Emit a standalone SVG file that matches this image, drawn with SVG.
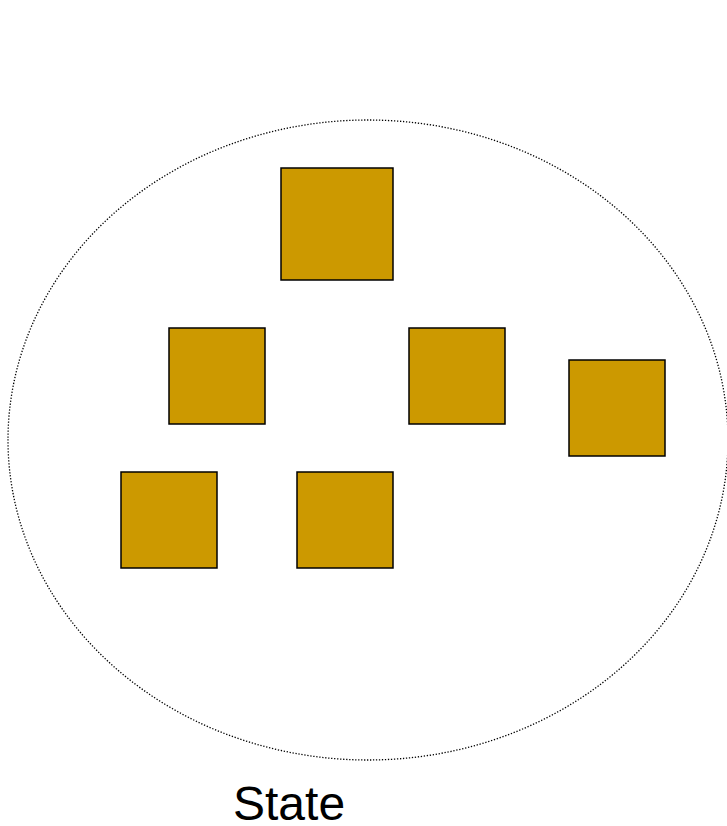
<svg xmlns="http://www.w3.org/2000/svg" width="727" height="826" viewBox="0 0 727 826">
<style>
.box{fill:#CC9900;stroke:#000;stroke-width:1.5}
.state{fill:none;stroke:#000;stroke-width:1.3;stroke-dasharray:1.3 1.7}
.lbl{font-family:"Liberation Sans",Arial,sans-serif;font-size:48px;fill:#000}
</style>
<rect width="727" height="826" fill="#fff"/>
<g id="state">
<ellipse class="state" cx="368" cy="440" rx="360" ry="320"/>
<text class="lbl" x="233" y="820">State</text>
</g>
<g id="n1"><rect class="box" x="281" y="168" width="112" height="112"/></g>
<g id="n2"><rect class="box" x="169" y="328" width="96" height="96"/></g>
<g id="n3"><rect class="box" x="409" y="328" width="96" height="96"/></g>
<g id="n4"><rect class="box" x="569" y="360" width="96" height="96"/></g>
<g id="n5"><rect class="box" x="121" y="472" width="96" height="96"/></g>
<g id="n6"><rect class="box" x="297" y="472" width="96" height="96"/></g>
<g id="connectors"></g>
</svg>
